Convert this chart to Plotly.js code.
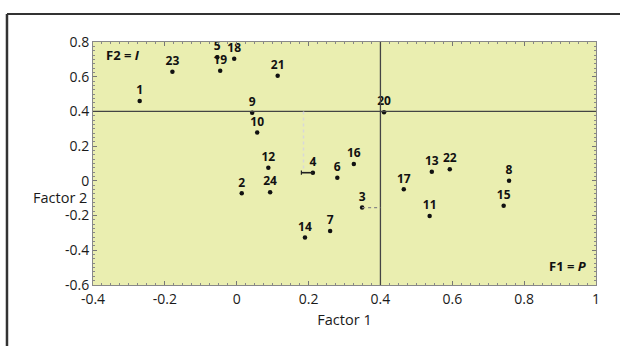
<!DOCTYPE html>
<html>
<head>
<meta charset="utf-8">
<script src="https://cdn.plot.ly/plotly-3.0.1.min.js"></script>
<style>
  html, body { margin: 0; padding: 0; background: #fff; }
  #chart { width: 620px; height: 346px; }
</style>
</head>
<body>
<div id="chart"></div>
<script>
// Item labels and factor loadings
const items = ['1','2','3','4','5','6','7','8','9','10','11','12','13','14','15','16','17','18','19','20','21','22','23','24'];
const factor1 = [-0.270, 0.014, 0.349, 0.212, -0.054, 0.280, 0.260, 0.758, 0.043, 0.057, 0.537, 0.088, 0.543, 0.190, 0.743, 0.326, 0.465, -0.007, -0.046, 0.410, 0.114, 0.593, -0.179, 0.093];
const factor2 = [0.460, -0.072, -0.154, 0.047, 0.712, 0.018, -0.289, 0.000, 0.393, 0.278, -0.202, 0.076, 0.053, -0.327, -0.143, 0.097, -0.049, 0.704, 0.635, 0.395, 0.606, 0.067, 0.629, -0.066];

// Reference (cut-off) lines
const cutX = [0.4];
const cutY = [0.4];

// Axis ticks
const xTicks = [-0.4, -0.2, 0, 0.2, 0.4, 0.6, 0.8, 1];
const xTickText = ['-0.4', '-0.2', '0', '0.2', '0.4', '0.6', '0.8', '1'];
const yTicks = [-0.6, -0.4, -0.2, 0, 0.2, 0.4, 0.6, 0.8];
const yTickText = ['-0.6', '-0.4', '-0.2', '0', '0.2', '0.4', '0.6', '0.8'];

// Connector guides (item 4 and item 3)
const i4 = items.indexOf('4');
const i3 = items.indexOf('3');
const guide4X = 0.186;

const font = "'Open Sans', 'Noto Sans', sans-serif";

const trace = {
  x: factor1,
  y: factor2,
  text: items,
  mode: 'markers+text',
  type: 'scatter',
  textposition: 'top center',
  textfont: { family: font, size: 12, color: '#111', weight: 'bold' },
  marker: { size: 4.5, color: '#111' },
  cliponaxis: false,
  hoverinfo: 'x+y+text'
};

const shapes = [];
cutX.forEach(v => shapes.push({ type: 'line', xref: 'x', yref: 'paper', x0: v, x1: v, y0: 0, y1: 1, line: { color: '#444', width: 1.3 } }));
cutY.forEach(v => shapes.push({ type: 'line', xref: 'paper', yref: 'y', x0: 0, x1: 1, y0: v, y1: v, line: { color: '#444', width: 1.3 } }));
// dotted guide down to item 4 and short solid bar
shapes.push({ type: 'line', xref: 'x', yref: 'y', x0: guide4X, x1: guide4X, y0: cutY[0], y1: factor2[i4], line: { color: '#d8d8d8', width: 1.5, dash: 'dot' } });
shapes.push({ type: 'line', xref: 'x', yref: 'y', x0: guide4X - 0.006, x1: factor1[i4], y0: factor2[i4], y1: factor2[i4], line: { color: '#222', width: 1.6 } });
shapes.push({ type: 'line', xref: 'x', yref: 'y', x0: guide4X - 0.006, x1: guide4X - 0.006, y0: factor2[i4] - 0.012, y1: factor2[i4] + 0.012, line: { color: '#222', width: 1.2 } });
// dotted guide from item 3 to the cut line
shapes.push({ type: 'line', xref: 'x', yref: 'y', x0: factor1[i3], x1: cutX[0], y0: factor2[i3], y1: factor2[i3], line: { color: '#888', width: 1.2, dash: 'dot' } });
// outer page frame (left and top border of the scan)
shapes.push({ type: 'line', xref: 'paper', yref: 'paper', x0: -0.171, x1: 1.1, y0: 1.115, y1: 1.115, line: { color: '#333', width: 2 } });
shapes.push({ type: 'line', xref: 'paper', yref: 'paper', x0: -0.171, x1: -0.171, y0: 1.115, y1: -0.4, line: { color: '#333', width: 2.5 } });

const layout = {
  width: 620,
  height: 346,
  margin: { l: 93, r: 24, t: 42, b: 61 },
  paper_bgcolor: '#ffffff',
  plot_bgcolor: '#eaeeb0',
  showlegend: false,
  font: { family: font, size: 14, color: '#1a1a1a' },
  xaxis: {
    range: [-0.4, 1],
    tickvals: xTicks,
    ticktext: xTickText,
    showgrid: false,
    zeroline: false,
    showline: true,
    linecolor: '#888',
    linewidth: 1,
    mirror: 'allticks',
    ticks: 'inside',
    ticklen: 4,
    tickcolor: '#777',
    ticklabelstandoff: 1,
    minor: { dtick: 0.025, ticks: 'inside', ticklen: 2, tickcolor: '#888', showgrid: false },
    tickfont: { family: font, size: 14, color: '#1a1a1a' },
    title: { text: 'Factor 1', font: { family: font, size: 14.5, color: '#1a1a1a' }, standoff: 8 }
  },
  yaxis: {
    range: [-0.6, 0.8],
    tickvals: yTicks,
    ticktext: yTickText,
    showgrid: false,
    zeroline: false,
    showline: true,
    linecolor: '#888',
    linewidth: 1,
    mirror: 'allticks',
    ticks: 'inside',
    ticklen: 4,
    tickcolor: '#777',
    minor: { dtick: 0.025, ticks: 'inside', ticklen: 2, tickcolor: '#888', showgrid: false },
    tickfont: { family: font, size: 14, color: '#1a1a1a' }
  },
  shapes: shapes,
  annotations: [
    { xref: 'paper', yref: 'paper', x: -0.008, y: 0.362, xanchor: 'right', yanchor: 'middle', showarrow: false,
      text: 'Factor 2', font: { family: font, size: 14.5, color: '#1a1a1a' } },
    { xref: 'paper', yref: 'paper', x: 0.022, y: 0.945, xanchor: 'left', yanchor: 'middle', showarrow: false,
      text: '<b>F2 = <i>I</i></b>', font: { family: font, size: 13, color: '#111' } },
    { xref: 'paper', yref: 'paper', x: 0.985, y: 0.08, xanchor: 'right', yanchor: 'middle', showarrow: false,
      text: '<b>F1 = <i>P</i></b>', font: { family: font, size: 13, color: '#111' } }
  ]
};

Plotly.newPlot('chart', [trace], layout, { displayModeBar: false, staticPlot: true });
</script>
</body>
</html>
